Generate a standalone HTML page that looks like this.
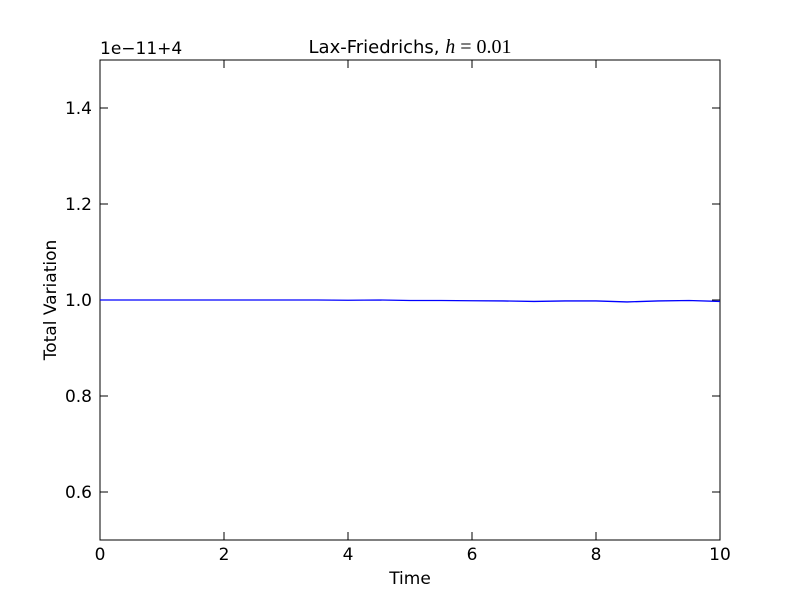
<!DOCTYPE html>
<html><head><meta charset="utf-8"><style>
body{margin:0;background:#fff;}
svg text{font-family:"DejaVu Sans","Liberation Sans",sans-serif;}
</style></head><body>
<svg id="chart" width="800" height="600" xmlns="http://www.w3.org/2000/svg">
<rect width="800" height="600" fill="#fff"/>
<g id="ticks"></g>
<rect x="100" y="60" width="620" height="480" fill="none" stroke="#000" stroke-width="1"/>
<path id="line" fill="none" stroke="#0000ff" stroke-width="1.3"/>
<text x="100" y="54" font-size="17">1e−11+4</text>
<text x="410" y="53" font-size="18" text-anchor="middle">Lax-Friedrichs, <tspan font-family="Liberation Serif" font-style="italic" font-size="20">h</tspan><tspan font-family="Liberation Serif" font-size="20"> = 0.01</tspan></text>
<text x="410" y="584" font-size="17" text-anchor="middle">Time</text>
<text x="56" y="300" font-size="17" text-anchor="middle" transform="rotate(-90 56 300)">Total Variation</text>
</svg>
<script>
const times=[0,0.5,1,1.5,2,2.5,3,3.5,4,4.5,5,5.5,6,6.5,7,7.5,8,8.5,9,9.5,10];
const values=[1.000,1.000,1.000,1.000,1.000,1.000,1.000,1.000,0.9995,1.000,0.999,0.999,0.9985,0.998,0.997,0.998,0.998,0.996,0.998,0.999,0.997];
const xTicks=[0,2,4,6,8,10];
const yTicks=[0.6,0.8,1.0,1.2,1.4];
const yTickLabels=["0.6","0.8","1.0","1.2","1.4"];
const X=v=>100+v/10*620, Y=v=>540-(v-0.5)/1.0*480;
const ns="http://www.w3.org/2000/svg", g=document.getElementById('ticks');
function mk(t,a){const e=document.createElementNS(ns,t);for(const k in a)e.setAttribute(k,a[k]);g.appendChild(e);return e;}
xTicks.forEach(v=>{
 const x=X(v);
 let l=mk('line',{x1:x,x2:x,y1:540,y2:532,stroke:'#000'});
 
 
 l=mk('line',{x1:x,x2:x,y1:60,y2:68,stroke:'#000'});
 
 
 const t=mk('text',{x:x,y:560,'font-size':17,'text-anchor':'middle'});t.textContent=v;
 
 
});
yTicks.forEach((v,i)=>{
 const y=Y(v);
 let l=mk('line',{x1:100,x2:108,y1:y,y2:y,stroke:'#000'});
 
 
 l=mk('line',{x1:712,x2:720,y1:y,y2:y,stroke:'#000'});
 
 
 const t=mk('text',{x:92,y:y+6,'font-size':17,'text-anchor':'end'});t.textContent=yTickLabels[i];
 
 
});
document.getElementById('line').setAttribute('d',times.map((t,i)=>(i?'L':'M')+X(t)+' '+Y(values[i])).join(' '));
</script>
</body></html>
